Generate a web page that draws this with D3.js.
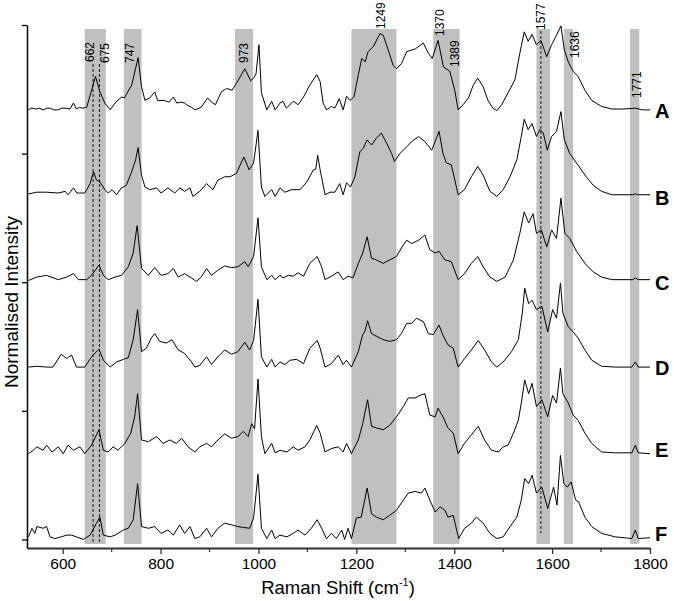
<!DOCTYPE html>
<html>
<head>
<meta charset="utf-8">
<script src="https://cdn.jsdelivr.net/npm/d3@7"></script>
<style>
  body { margin: 0; background: #fff; }
  svg { display: block; font-family: Arial, "Liberation Sans", sans-serif; }
</style>
</head>
<body>
<svg id="chart" width="674" height="601"></svg>
<script>
// Spectra, [Raman shift (cm-1), normalised intensity]
var spectrumA = [[530,0.01],[536,0.03],[545,0.02],[552,0.03],[560,0.01],[568,0.03],[575,0.03],[582,0.01],[590,0.01],[598,0.03],[605,0.03],[615,0.02],[622,0.09],[628,0.02],[634,0.04],[640,0.03],[649,0.04],[658,0.22],[667,0.40],[676,0.22],[686,0.09],[697,0.01],[707,0.09],[720,0.16],[726,0.15],[741,0.30],[754,0.62],[761,0.28],[768,0.12],[778,0.15],[788,0.22],[794,0.12],[808,0.12],[817,0.10],[826,0.16],[833,0.09],[841,0.10],[849,0.09],[856,0.06],[863,0.04],[870,0.01],[883,0.04],[896,0.15],[904,0.10],[912,0.07],[924,0.22],[935,0.26],[946,0.24],[955,0.32],[972,0.49],[984,0.35],[990,0.38],[995,0.43],[1001,0.77],[1006,0.21],[1017,0.01],[1027,0.11],[1034,0.01],[1044,0.09],[1050,0.11],[1057,0.03],[1071,0.11],[1081,0.07],[1092,0.16],[1105,0.30],[1119,0.42],[1126,0.34],[1132,0.09],[1139,0.01],[1149,0.05],[1156,0.03],[1165,0.14],[1173,0.01],[1180,0.17],[1187,0.12],[1195,0.16],[1204,0.42],[1211,0.61],[1218,0.57],[1224,0.69],[1235,0.75],[1248,0.90],[1255,0.88],[1265,0.71],[1275,0.53],[1282,0.49],[1292,0.55],[1303,0.69],[1320,0.72],[1337,0.79],[1347,0.67],[1355,0.61],[1367,0.82],[1378,0.51],[1391,0.46],[1401,0.24],[1408,0.01],[1418,0.07],[1429,0.15],[1439,0.30],[1448,0.38],[1459,0.28],[1469,0.12],[1479,0.03],[1487,0.00],[1497,0.07],[1510,0.21],[1524,0.36],[1534,0.67],[1543,0.92],[1551,0.81],[1559,0.89],[1568,0.77],[1577,0.82],[1589,0.63],[1599,0.77],[1609,0.88],[1618,0.99],[1625,0.71],[1633,0.57],[1643,0.46],[1653,0.40],[1667,0.24],[1681,0.12],[1701,0.05],[1722,0.02],[1745,0.02],[1770,0.03],[1785,0.01],[1800,0.01]];

var spectrumB = [[530,0.03],[547,0.05],[567,0.05],[591,0.04],[605,0.06],[611,0.02],[622,0.10],[629,0.04],[645,0.04],[656,0.15],[663,0.29],[669,0.19],[676,0.17],[686,0.08],[693,0.04],[701,0.08],[710,0.02],[720,0.10],[730,0.13],[741,0.29],[749,0.43],[754,0.57],[761,0.25],[768,0.11],[778,0.08],[792,0.10],[801,0.04],[815,0.10],[829,0.04],[839,0.10],[849,0.06],[860,0.10],[866,0.00],[880,0.06],[894,0.15],[907,0.08],[917,0.19],[931,0.23],[942,0.23],[955,0.27],[970,0.46],[981,0.31],[990,0.39],[999,0.77],[1006,0.11],[1013,0.00],[1027,0.08],[1034,0.00],[1044,0.10],[1054,0.05],[1068,0.08],[1085,0.08],[1099,0.17],[1112,0.31],[1117,0.32],[1121,0.48],[1126,0.31],[1136,0.02],[1146,0.05],[1156,0.05],[1166,0.15],[1173,0.02],[1180,0.16],[1188,0.11],[1197,0.23],[1207,0.52],[1214,0.56],[1222,0.66],[1231,0.60],[1241,0.68],[1251,0.74],[1262,0.62],[1272,0.50],[1278,0.41],[1289,0.50],[1303,0.58],[1313,0.64],[1327,0.70],[1340,0.64],[1354,0.54],[1369,0.76],[1377,0.50],[1384,0.39],[1394,0.37],[1408,0.02],[1421,0.08],[1435,0.23],[1448,0.35],[1459,0.25],[1473,0.06],[1487,0.00],[1500,0.08],[1514,0.23],[1528,0.43],[1537,0.70],[1543,0.90],[1551,0.78],[1559,0.85],[1568,0.70],[1575,0.78],[1582,0.74],[1590,0.54],[1599,0.70],[1609,0.76],[1618,0.99],[1625,0.66],[1636,0.50],[1650,0.39],[1667,0.25],[1684,0.13],[1701,0.06],[1722,0.02],[1765,0.02],[1770,0.03],[1776,0.02],[1800,0.02]];

var spectrumC = [[530,0.02],[547,0.06],[567,0.08],[591,0.03],[608,0.06],[622,0.10],[632,0.03],[649,0.03],[659,0.08],[674,0.20],[683,0.08],[693,0.03],[707,0.06],[720,0.08],[734,0.18],[744,0.34],[752,0.66],[761,0.16],[775,0.08],[788,0.17],[801,0.08],[815,0.10],[826,0.16],[836,0.06],[849,0.10],[863,0.05],[873,0.01],[883,0.06],[894,0.16],[904,0.08],[917,0.14],[931,0.19],[945,0.17],[958,0.18],[972,0.24],[979,0.18],[990,0.30],[999,0.75],[1006,0.18],[1017,0.03],[1027,0.08],[1034,0.03],[1044,0.08],[1050,0.05],[1061,0.08],[1071,0.07],[1081,0.11],[1092,0.07],[1105,0.22],[1120,0.30],[1129,0.18],[1136,0.03],[1149,0.07],[1163,0.12],[1173,0.03],[1183,0.07],[1193,0.05],[1204,0.22],[1213,0.34],[1222,0.53],[1231,0.28],[1241,0.26],[1255,0.22],[1268,0.26],[1282,0.30],[1292,0.40],[1303,0.49],[1313,0.45],[1327,0.49],[1340,0.55],[1350,0.38],[1361,0.34],[1369,0.36],[1381,0.26],[1394,0.24],[1408,0.03],[1421,0.10],[1435,0.22],[1448,0.30],[1459,0.18],[1473,0.06],[1487,0.01],[1504,0.06],[1521,0.26],[1534,0.57],[1543,0.82],[1552,0.69],[1561,0.80],[1568,0.57],[1578,0.61],[1589,0.41],[1599,0.61],[1609,0.51],[1618,0.98],[1626,0.57],[1636,0.51],[1650,0.36],[1667,0.22],[1684,0.12],[1701,0.06],[1722,0.03],[1765,0.03],[1770,0.05],[1776,0.03],[1800,0.03]];

var spectrumD = [[530,0.01],[547,0.02],[567,0.01],[580,0.01],[597,0.16],[608,0.11],[618,0.15],[628,0.01],[645,0.01],[659,0.13],[674,0.22],[683,0.09],[697,0.01],[710,0.07],[724,0.10],[734,0.12],[744,0.33],[753,0.68],[761,0.19],[771,0.23],[781,0.35],[788,0.40],[798,0.31],[812,0.29],[823,0.33],[836,0.21],[849,0.17],[863,0.07],[870,0.01],[880,0.03],[894,0.13],[904,0.04],[917,0.13],[931,0.21],[945,0.16],[958,0.19],[972,0.30],[982,0.21],[990,0.32],[999,0.80],[1006,0.13],[1017,0.01],[1027,0.10],[1034,0.01],[1044,0.07],[1054,0.04],[1064,0.09],[1078,0.10],[1092,0.05],[1105,0.23],[1120,0.32],[1126,0.23],[1136,0.01],[1149,0.05],[1163,0.15],[1173,0.04],[1180,0.09],[1190,0.01],[1204,0.19],[1213,0.39],[1217,0.42],[1223,0.55],[1231,0.40],[1241,0.37],[1255,0.33],[1268,0.31],[1282,0.33],[1292,0.40],[1303,0.52],[1313,0.52],[1323,0.58],[1337,0.54],[1347,0.40],[1357,0.39],[1369,0.50],[1377,0.38],[1387,0.27],[1398,0.23],[1408,0.01],[1421,0.11],[1435,0.21],[1449,0.32],[1462,0.21],[1476,0.07],[1487,0.01],[1500,0.07],[1517,0.19],[1531,0.33],[1539,0.64],[1544,0.93],[1552,0.75],[1559,0.79],[1568,0.68],[1579,0.72],[1591,0.42],[1601,0.68],[1609,0.58],[1617,0.99],[1622,0.64],[1633,0.48],[1643,0.42],[1653,0.35],[1667,0.21],[1681,0.09],[1701,0.02],[1729,0.01],[1763,0.01],[1770,0.07],[1776,0.01],[1800,0.01]];

var spectrumE = [[530,0.00],[540,0.04],[547,0.08],[560,0.04],[567,0.10],[578,0.02],[591,0.08],[601,0.00],[611,0.10],[622,0.04],[635,0.08],[645,0.00],[659,0.10],[674,0.28],[683,0.04],[693,0.02],[703,0.08],[713,0.04],[727,0.12],[739,0.24],[747,0.43],[753,0.70],[761,0.16],[775,0.14],[792,0.20],[805,0.12],[819,0.16],[832,0.12],[843,0.18],[856,0.08],[870,0.02],[880,0.08],[894,0.12],[904,0.08],[917,0.16],[931,0.23],[945,0.18],[958,0.20],[969,0.26],[979,0.20],[986,0.35],[992,0.29],[999,0.87],[1006,0.20],[1013,0.00],[1027,0.12],[1034,0.01],[1044,0.04],[1058,0.02],[1071,0.08],[1081,0.04],[1095,0.08],[1105,0.16],[1119,0.33],[1126,0.24],[1136,0.02],[1149,0.06],[1163,0.08],[1173,0.02],[1180,0.12],[1190,0.00],[1204,0.16],[1213,0.35],[1223,0.63],[1231,0.32],[1241,0.30],[1255,0.28],[1268,0.33],[1282,0.43],[1296,0.55],[1306,0.65],[1320,0.65],[1330,0.68],[1340,0.70],[1350,0.45],[1361,0.43],[1367,0.53],[1377,0.43],[1387,0.30],[1398,0.24],[1408,0.00],[1421,0.12],[1435,0.22],[1449,0.32],[1462,0.16],[1476,0.04],[1490,0.02],[1500,0.08],[1510,0.10],[1521,0.24],[1531,0.39],[1537,0.59],[1544,0.86],[1552,0.70],[1559,0.82],[1568,0.55],[1579,0.63],[1591,0.43],[1601,0.68],[1609,0.59],[1617,1.00],[1622,0.70],[1633,0.59],[1643,0.45],[1653,0.39],[1667,0.24],[1681,0.12],[1701,0.02],[1729,0.01],[1763,0.01],[1770,0.10],[1776,0.01],[1800,0.00]];

var spectrumF = [[530,0.03],[537,0.13],[543,0.07],[547,0.15],[560,0.13],[567,0.15],[574,0.03],[584,0.01],[597,0.03],[608,0.05],[618,0.05],[628,0.03],[642,0.00],[656,0.05],[669,0.19],[676,0.26],[683,0.05],[697,0.03],[707,0.05],[724,0.11],[734,0.13],[744,0.23],[753,0.65],[761,0.15],[775,0.13],[788,0.15],[801,0.07],[815,0.11],[826,0.05],[839,0.17],[849,0.07],[860,0.15],[870,0.01],[880,0.03],[894,0.13],[904,0.03],[917,0.13],[931,0.19],[945,0.17],[958,0.15],[969,0.14],[982,0.13],[990,0.25],[999,0.76],[1006,0.13],[1017,0.01],[1027,0.11],[1034,0.01],[1044,0.05],[1058,0.03],[1071,0.07],[1081,0.11],[1095,0.05],[1108,0.13],[1120,0.23],[1129,0.13],[1139,0.01],[1149,0.07],[1159,0.01],[1170,0.11],[1176,0.00],[1183,0.13],[1190,0.01],[1200,0.25],[1210,0.26],[1222,0.60],[1231,0.30],[1241,0.26],[1255,0.23],[1268,0.28],[1282,0.34],[1296,0.46],[1306,0.54],[1320,0.56],[1333,0.54],[1340,0.60],[1350,0.46],[1361,0.32],[1371,0.38],[1381,0.34],[1387,0.26],[1398,0.28],[1409,0.01],[1421,0.13],[1435,0.19],[1445,0.26],[1459,0.19],[1473,0.07],[1487,0.01],[1500,0.03],[1514,0.15],[1528,0.26],[1537,0.46],[1544,0.71],[1552,0.65],[1559,0.75],[1568,0.54],[1579,0.61],[1591,0.36],[1603,0.61],[1610,0.40],[1617,0.98],[1624,0.65],[1631,0.61],[1639,0.67],[1648,0.46],[1654,0.44],[1667,0.26],[1681,0.15],[1701,0.07],[1729,0.03],[1763,0.01],[1770,0.11],[1776,0.01],[1800,0.02]];

var sampleNames = ['A', 'B', 'C', 'D', 'E', 'F'];
var sampleOffsets = [5, 4, 3, 2, 1, 0];

// Highlighted regions (cm-1) and marked peaks
var bandRanges = [[645, 688], [725, 761], [952, 989], [1190, 1282], [1357, 1411], [1568, 1596], [1624, 1643], [1759, 1778]];
var dashedPeaks = [662, 675, 1577];
var peakLabels = [662, 675, 747, 973, 1249, 1370, 1389, 1577, 1636, 1771];

var xMajorTicks = [600, 800, 1000, 1200, 1400, 1600, 1800];
var xMinorTicks = [700, 900, 1100, 1300, 1500, 1700];
var yTicks = [0, 1.5, 3, 4.5, 6];

var spectra = [spectrumA, spectrumB, spectrumC, spectrumD, spectrumE, spectrumF];

// Scales
var xScale = d3.scaleLinear().domain([527, 1800]).range([27, 650]);
var yScale = d3.scaleLinear().domain([-0.1, 6]).range([548, 25]);

var svg = d3.select('#chart');

// Grey bands
svg.append('g').selectAll('rect')
    .data(bandRanges)
    .enter().append('rect')
    .attr('x', function(d) { return xScale(d[0]); })
    .attr('width', function(d) { return xScale(d[1]) - xScale(d[0]); })
    .attr('y', 29)
    .attr('height', 544 - 29)
    .attr('fill', '#c0c0c0');

// Dashed peak markers
var dashTop = {662: 64, 675: 64, 1577: 31};
var dashBottom = {662: 544, 675: 544, 1577: 533};
svg.append('g').selectAll('line')
    .data(dashedPeaks)
    .enter().append('line')
    .attr('x1', function(d) { return xScale(d); })
    .attr('x2', function(d) { return xScale(d); })
    .attr('y1', function(d) { return dashTop[d]; })
    .attr('y2', function(d) { return dashBottom[d]; })
    .attr('stroke', '#000')
    .attr('stroke-width', 0.9)
    .attr('stroke-dasharray', '3,2');

// Spectra, stacked
var line = d3.line()
    .x(function(d) { return xScale(d[0]); });

svg.append('g').selectAll('path')
    .data(spectra)
    .enter().append('path')
    .attr('d', function(d, i) {
      return line.y(function(p) { return yScale(p[1] + sampleOffsets[i]); })(d);
    })
    .attr('fill', 'none')
    .attr('stroke', '#000')
    .attr('stroke-width', 1)
    .attr('stroke-linejoin', 'round');

// Axes
var xAxis = d3.axisBottom(xScale).tickValues(xMajorTicks).tickFormat(d3.format('d'))
    .tickSize(6).tickSizeOuter(0).tickPadding(4);
var gx = svg.append('g')
    .attr('transform', 'translate(0,548)')
    .call(xAxis);
gx.selectAll('text').attr('font-size', '15.5px').attr('fill', '#000').attr('font-family', 'Arial, "Liberation Sans", sans-serif');
gx.select('.domain').attr('stroke', '#333').attr('stroke-width', 2);
gx.selectAll('.tick line').attr('stroke', '#333').attr('stroke-width', 1.3);

svg.append('g').selectAll('line')
    .data(xMinorTicks)
    .enter().append('line')
    .attr('x1', function(d) { return xScale(d); })
    .attr('x2', function(d) { return xScale(d); })
    .attr('y1', 548)
    .attr('y2', 552)
    .attr('stroke', '#333')
    .attr('stroke-width', 1.2);

var yAxis = d3.axisLeft(yScale).tickValues(yTicks).tickSize(5).tickSizeOuter(0).tickFormat('');
var gy = svg.append('g')
    .attr('transform', 'translate(27,0)')
    .call(yAxis);
gy.select('.domain').attr('stroke', '#000').attr('stroke-width', 1.5);
gy.selectAll('.tick line').attr('stroke', '#000').attr('stroke-width', 1.3);

// Axis titles
var xTitle = svg.append('text')
    .attr('x', 338)
    .attr('y', 594)
    .attr('text-anchor', 'middle')
    .attr('font-size', '18.5px')
    .text('Raman Shift (cm');
xTitle.append('tspan').attr('font-size', '11px').attr('dy', -8).text('-1');
xTitle.append('tspan').attr('dy', 8).text(')');

svg.append('text')
    .attr('transform', 'translate(18,302) rotate(-90)')
    .attr('text-anchor', 'middle')
    .attr('font-size', '19px')
    .text('Normalised Intensity');

// Peak labels (rotated)
var labelDx = {662: -3, 675: 5, 747: -5, 973: -1, 1249: 0, 1370: 0, 1389: 6, 1577: 0, 1636: 5, 1771: 1};
var labelBottom = {662: 62, 675: 63, 747: 63, 973: 63, 1249: 29, 1370: 36, 1389: 67, 1577: 30, 1636: 58, 1771: 98};
svg.append('g').selectAll('text')
    .data(peakLabels)
    .enter().append('text')
    .attr('transform', function(d) {
      return 'translate(' + (xScale(d) + labelDx[d]) + ',' + labelBottom[d] + ') rotate(-90)';
    })
    .attr('dy', '0.35em')
    .attr('font-size', '12px')
    .text(function(d) { return d; });

// Sample letters
var letterDy = [0, 1, 1, 0, -4, -6];
svg.append('g').selectAll('text')
    .data(sampleNames)
    .enter().append('text')
    .attr('x', 655)
    .attr('y', function(d, i) { return yScale(sampleOffsets[i]) + letterDy[i]; })
    .attr('dy', '0.36em')
    .attr('font-size', '20px')
    .attr('font-weight', 'bold')
    .text(function(d) { return d; });
</script>
</body>
</html>
